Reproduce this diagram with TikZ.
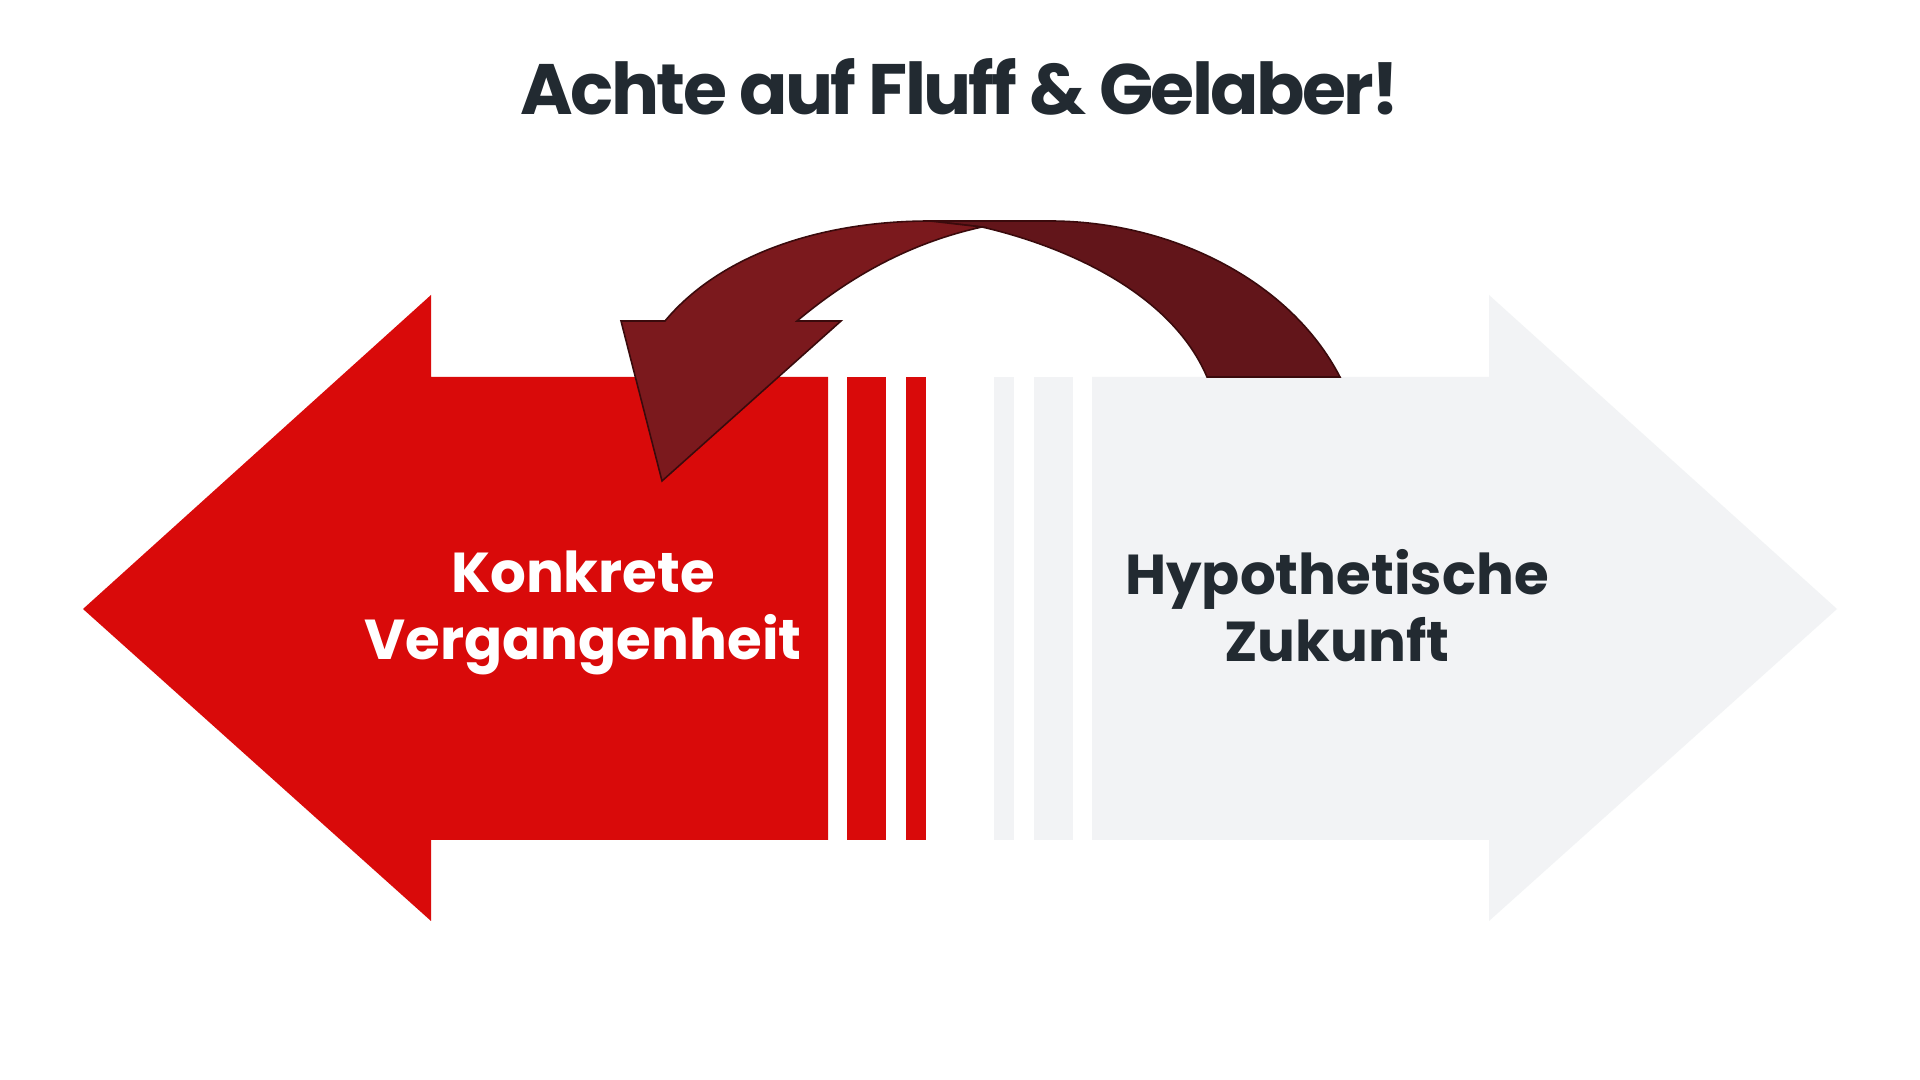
\documentclass[tikz,border=0pt]{standalone}
\usepackage{fontspec}
\setmainfont{Poppins}
\definecolor{pastred}{HTML}{D90A0A}
\definecolor{futuregray}{HTML}{F2F3F5}
\definecolor{inkdark}{HTML}{222A31}
\definecolor{loopred}{HTML}{7B191D}
\definecolor{loopdark}{HTML}{62151A}
\definecolor{loopedge}{HTML}{3A0A0C}

\begin{document}
\begin{tikzpicture}
[
    x=0.01cm, y=-0.01cm,
    side text/.style={font=\bfseries\fontsize{16pt}{19pt}\selectfont, align=center},
    loop part/.style={draw=loopedge, line width=0.45pt, line join=miter},
]
\useasboundingbox (0,0) rectangle (1920,1080);
\fill[white] (0,0) rectangle (1920,1080);

% left arrow with stripes
\fill[pastred] (83,609) -- (431,295) -- (431,377) -- (828,377) -- (828,840)
    -- (431,840) -- (431,921) -- cycle;
\fill[pastred] (847,377) rectangle (886,840);
\fill[pastred] (906,377) rectangle (926,840);

% right arrow with stripes
\fill[futuregray] (1837,609) -- (1489,295) -- (1489,377) -- (1092,377) -- (1092,840)
    -- (1489,840) -- (1489,921) -- cycle;
\fill[futuregray] (1034,377) rectangle (1073,840);
\fill[futuregray] (994,377) rectangle (1014,840);

% curved arrow, back part
\path[loop part, fill=loopdark] (930,221) -- (1050,221)
    .. controls (1170,221) and (1290,280) .. (1340,377) -- (1207,377)
    .. controls (1170,290) and (1060,245) .. (982,227) -- cycle;
% curved arrow, front part with head
\path[loop part, fill=loopred] (982,227)
    .. controls (900,245) and (840,285) .. (797,321) -- (841,321) -- (662,481)
    -- (621,321) -- (665,321)
    .. controls (720,255) and (820,221) .. (930,221) -- cycle;

\node[font=\bfseries\fontsize{20.3pt}{24pt}\selectfont\addfontfeatures{LetterSpace=-3.8}, text=inkdark, anchor=base]
    (title) at (960,115) {Achte auf Fluff \& Gelaber!};
\node[side text, text=white] (past) at (583,613) {Konkrete\\Vergangenheit};
\node[side text, text=inkdark] (future) at (1337,606) {Hypothetische\\Zukunft};
\end{tikzpicture}
\end{document}
